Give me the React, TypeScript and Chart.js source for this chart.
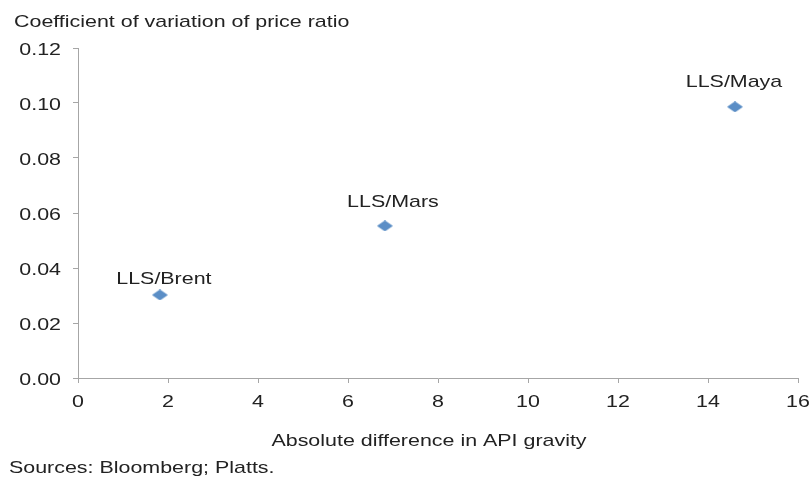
import React, { useEffect, useRef } from "react";
import { Chart, registerables } from "chart.js";

Chart.register(...registerables);

const pairLabels = ["LLS/Brent", "LLS/Mars", "LLS/Maya"];
const apiGravityDiff = [1.82, 6.82, 14.6];
const coefVariation = [0.0302, 0.0553, 0.0986];
const yTitle = "Coefficient of variation of price ratio";
const xTitle = "Absolute difference in API gravity";
const sourceNote = "Sources: Bloomberg; Platts.";

// label placement relative to each marker (style only)
const labelDx = [4, 8, -1];
const labelDy = [-11, -19, -20];

const FONT = "'Liberation Sans', Arial, sans-serif";
const FONT_SIZE = 17;
const SX = 1.26;
const TEXT_COLOR = "#222222";

function drawText(ctx: CanvasRenderingContext2D, text: string, x: number, y: number, align: CanvasTextAlign, baseline: CanvasTextBaseline) {
  ctx.save();
  ctx.translate(x, y);
  ctx.scale(SX, 1);
  ctx.textAlign = align;
  ctx.textBaseline = baseline;
  ctx.fillText(text, 0, 0);
  ctx.restore();
}

function makeDiamond(): HTMLCanvasElement {
  const c = document.createElement("canvas");
  c.width = 16;
  c.height = 11;
  const g = c.getContext("2d")!;
  g.fillStyle = "#5B8EC6";
  g.beginPath();
  g.moveTo(8, 0);
  g.lineTo(16, 5.5);
  g.lineTo(8, 11);
  g.lineTo(0, 5.5);
  g.closePath();
  g.fill();
  return c;
}

const textPlugin = {
  id: "texts",
  afterDatasetsDraw(chart: any) {
    const ctx: CanvasRenderingContext2D = chart.ctx;
    const meta = chart.getDatasetMeta(0);
    ctx.save();
    ctx.fillStyle = TEXT_COLOR;
    ctx.font = `${FONT_SIZE}px ${FONT}`;
    meta.data.forEach((el: any, i: number) => {
      drawText(ctx, pairLabels[i], el.x + labelDx[i], el.y + labelDy[i], "center", "alphabetic");
    });
    // tick labels through the chart's own scales
    const xs = chart.scales.x;
    xs.ticks.forEach((t: any) => {
      const px = xs.getPixelForValue(t.value);
      drawText(ctx, String(t.value), px, 407, "center", "alphabetic");
    });
    const ys = chart.scales.y;
    ys.ticks.forEach((t: any) => {
      const py = ys.getPixelForValue(t.value);
      drawText(ctx, Number(t.value).toFixed(2), 61, py + 7, "right", "alphabetic");
    });
    drawText(ctx, yTitle, 14, 27, "left", "alphabetic");
    drawText(ctx, xTitle, 429, 446, "center", "alphabetic");
    drawText(ctx, sourceNote, 9, 473, "left", "alphabetic");
    ctx.restore();
  },
};

export default function App() {
  const ref = useRef<HTMLCanvasElement>(null);
  useEffect(() => {
    const diamond = makeDiamond();
    const chart = new Chart(ref.current!, {
      type: "scatter",
      data: {
        datasets: [
          {
            data: apiGravityDiff.map((x, i) => ({ x, y: coefVariation[i] })),
            pointStyle: diamond as any,
            pointRadius: 8,
            backgroundColor: "#5B8EC6",
          },
        ],
      },
      options: {
        animation: false,
        responsive: false,
        devicePixelRatio: 1,
        layout: { padding: { top: 48, right: 11, left: 0, bottom: 0 } },
        plugins: { legend: { display: false }, tooltip: { enabled: false } },
        scales: {
          x: {
            type: "linear",
            min: 0,
            max: 16,
            ticks: { stepSize: 2, display: false },
            grid: { drawOnChartArea: false, drawTicks: true, tickLength: 5, color: "#A6A6A6" },
            border: { color: "#A6A6A6", width: 1 },
            afterFit: (s: any) => {
              s.height = 99;
            },
          },
          y: {
            min: 0,
            max: 0.12,
            ticks: { stepSize: 0.02, display: false },
            grid: { drawOnChartArea: false, drawTicks: true, tickLength: 5, color: "#A6A6A6" },
            border: { color: "#A6A6A6", width: 1 },
            afterFit: (s: any) => {
              s.width = 78;
            },
          },
        },
      },
      plugins: [textPlugin],
    });
    return () => chart.destroy();
  }, []);
  return (
    <div style={{ position: "fixed", left: 0, top: 0, width: 809, height: 477, background: "#fff" }}>
      <canvas ref={ref} width={809} height={477} style={{ width: 809, height: 477 }} />
    </div>
  );
}
